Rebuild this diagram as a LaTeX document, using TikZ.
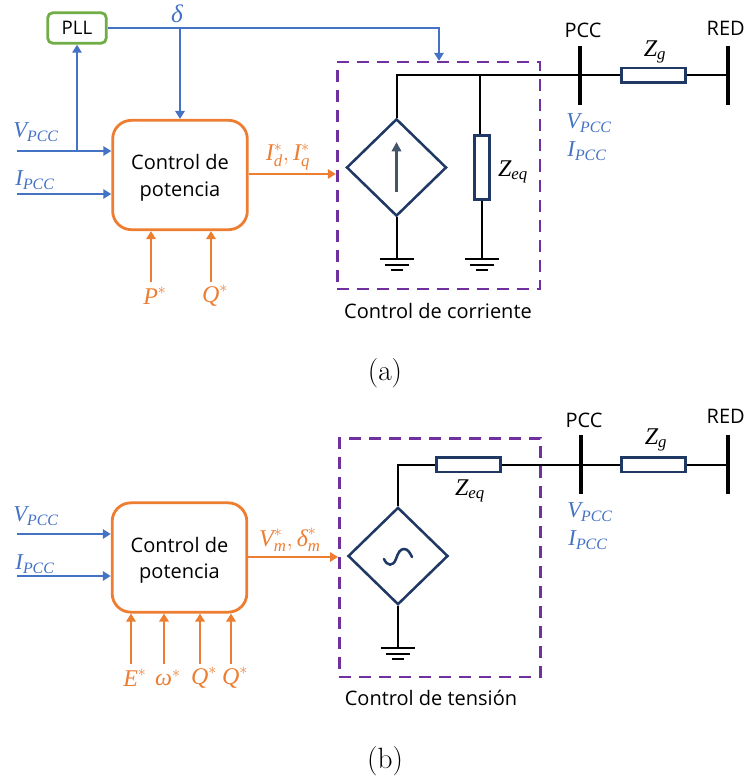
\documentclass[tikz,border=0pt]{standalone}
\usepackage{amsmath}
\usepackage{fontspec}
\setmainfont{Open Sans}
\newfontfamily\lmfont{Latin Modern Roman}
\newfontfamily\mfont{Liberation Serif}
\usetikzlibrary{arrows.meta,shapes.geometric,calc}
\definecolor{cblue}{HTML}{4472C4}
\definecolor{corange}{HTML}{ED7D31}
\definecolor{cgreen}{HTML}{70AD47}
\definecolor{cpurple}{HTML}{7030A0}
\definecolor{cnavy}{HTML}{1F3864}
\definecolor{cslate}{HTML}{44546A}
\newcommand\M[1]{\text{\mfont\itshape #1}}
\newcommand\VP{$\M{V}_{\M{PCC}}$}
\newcommand\IP{$\M{I}_{\M{PCC}}$}
\newcommand\Zq{$\M{Z}_{\M{eq}}$}
\newcommand\Zg{$\M{Z}_{\M{g}}$}
\newcommand\Low[1]{\raisebox{-2.2pt}[0.8em][0.3em]{#1}}
\tikzset{
  x=0.75pt,y=-0.75pt,
  bluearrow/.style={draw=cblue,line width=2.1pt,-{Triangle[length=6pt,width=7pt]}},
  blueline/.style={draw=cblue,line width=2.1pt},
  orangearrow/.style={draw=corange,line width=2.2pt,-{Triangle[length=6pt,width=7pt]}},
  ctrlbox/.style={draw=corange,line width=2.1pt,rounded corners=14pt,minimum width=101pt,minimum height=82pt,inner sep=0pt,align=center,font=\fontsize{15}{20}\selectfont},
  pllbox/.style={draw=cgreen,line width=2.1pt,rounded corners=4pt,minimum width=44pt,minimum height=23pt,inner sep=0pt,font=\fontsize{14}{15}\selectfont},
  group/.style={draw=cpurple,line width=2pt,dash pattern=on 9pt off 6pt,inner sep=0pt},
  source/.style={diamond,draw=cnavy,line width=1.9pt,minimum width=75pt,minimum height=73pt,inner sep=0pt},
  resh/.style={draw=cnavy,line width=2pt,minimum width=48pt,minimum height=11pt,inner sep=0pt},
  resv/.style={draw=cnavy,line width=2pt,minimum width=11pt,minimum height=48pt,inner sep=0pt},
  wire/.style={draw=black,line width=1.5pt},
  busbar/.style={draw=black,line width=2.4pt},
  txt/.style={font=\fontsize{15}{18}\selectfont,inner sep=0pt},
  mblue/.style={text=cblue,font=\fontsize{17}{20}\selectfont,inner sep=0pt},
  morange/.style={text=corange,font=\fontsize{18}{20}\selectfont,inner sep=0pt},
  mblack/.style={text=black,font=\fontsize{18}{20}\selectfont,inner sep=0pt},
  caption/.style={font=\lmfont\fontsize{22}{24}\selectfont,inner sep=0pt},
  ground/.pic={\draw[black,line width=1.5pt] (-17,0)--(17,0) (-12,6)--(12,6) (-6,11)--(6,11);}
}
\begin{document}
\begin{tikzpicture}
\useasboundingbox (0,0) rectangle (745,781);
% ---------- (a)
\node[ctrlbox] (ca) at (180,175) {\Low{Control de}\\\Low{potencia}};
\node[pllbox] (pll) at (77,28) {PLL};
\node[group,minimum width=152pt,minimum height=170pt] (ga) at (438.5,175.5) {};
\node[source] (sa) at (396.5,167.5) {};
\node[resv] (rqa) at (482,167.5) {};
\node[resh] (rga) at (653.5,75.5) {};
\coordinate (busa) at (396.5,75.5);
\coordinate (jza) at (480,75.5);
\coordinate (pcca) at (580,75.5);
\coordinate (reda) at (728,75.5);
\coordinate (pcca1) at (580,46);
\coordinate (pcca2) at (580,105);
\coordinate (reda1) at (728,46);
\coordinate (reda2) at (728,105);
\coordinate (gsa) at (396.5,259);
\coordinate (gra) at (482,259);
\coordinate (via) at (17,151);
\coordinate (jva) at (77,151);
\coordinate (iia) at (17,194);
\coordinate (jda) at (180,28);
\coordinate (tda) at (439,28);
\coordinate (pa) at (151,282);
\coordinate (qa) at (211,282);
\coordinate (ar1) at (396.5,192);
\coordinate (ar2) at (396.5,142);
\draw[blueline] (via)--(jva);
\draw[bluearrow] (jva)--(jva-|ca.west);
\draw[bluearrow] (iia)--(iia-|ca.west);
\draw[bluearrow] (jva)--(pll.south);
\draw[blueline] (pll.east)--(jda);
\draw[bluearrow] (jda)--(ca.north);
\draw[bluearrow] (jda)--(tda)--(tda|-ga.north);
\draw[orangearrow] (ca.east|-0,174)--(ga.west|-0,174);
\draw[orangearrow] (pa)--(pa|-ca.south);
\draw[orangearrow] (qa)--(qa|-ca.south);
\draw[wire] (sa.north)--(busa)--(pcca);
\draw[wire] (jza)--(jza|-rqa.north);
\draw[wire] (sa.south)--(gsa);
\draw[wire] (rqa.south)--(gra);
\draw[wire] (pcca)--(rga.west);
\draw[wire] (rga.east)--(reda);
\draw[busbar] (pcca1)--(pcca2);
\draw[busbar] (reda1)--(reda2);
\draw[draw=cslate,line width=2pt,-{Triangle[length=7pt,width=7pt]}] (ar1)--(ar2);
\pic at (gsa) {ground};
\pic at (gra) {ground};
\node[mblue] (la1) at (36,132) {\VP};
\node[mblue] (la2) at (35,180) {\IP};
\node[mblue] (la3) at (177,14) {\fontsize{19}{20}\selectfont$\M{δ}$};
\node[morange] (la4) at (288,157) {$\M{I}^{*}_{\M{d}},\M{I}^{*}_{\M{q}}$};
\node[morange] (la5) at (155,296) {$\M{P}^{*}$};
\node[morange] (la6) at (215,296) {$\M{Q}^{*}$};
\node[mblack] (la7) at (513,172) {\Zq};
\node[mblack] (la8) at (655,52) {\Zg};
\node[txt] (la9) at (583,30) {PCC};
\node[txt,anchor=east] (la10) at (745,28) {RED};
\node[mblue] (la11) at (589,123) {\VP};
\node[mblue] (la12) at (587,151) {\IP};
\node[txt] (la13) at (438,311) {Control de corriente};
\node[caption] (capa) at (385,373) {(a)};
% ---------- (b)
\node[ctrlbox] (cb) at (179.5,557.5) {\Low{Control de}\\\Low{potencia}};
\node[group,minimum width=151pt,minimum height=179pt] (gb) at (440,557.5) {};
\node[source] (sb) at (398,556) {};
\node[resh] (rqb) at (468.5,464.5) {};
\node[resh] (rgb) at (653.5,464.5) {};
\coordinate (busb) at (398,464.5);
\coordinate (pccb) at (581,464.5);
\coordinate (redb) at (728,464.5);
\coordinate (pccb1) at (581,435);
\coordinate (pccb2) at (581,494);
\coordinate (redb1) at (728,435);
\coordinate (redb2) at (728,494);
\coordinate (gsb) at (398,648);
\coordinate (vib) at (17,534);
\coordinate (iib) at (17,576);
\coordinate (eb) at (131,664);
\coordinate (wb) at (164,664);
\coordinate (qb1) at (200,664);
\coordinate (qb2) at (231,664);
\draw[bluearrow] (vib)--(vib-|cb.west);
\draw[bluearrow] (iib)--(iib-|cb.west);
\draw[orangearrow] (cb.east|-0,557)--(gb.west|-0,557);
\draw[orangearrow] (eb)--(eb|-cb.south);
\draw[orangearrow] (wb)--(wb|-cb.south);
\draw[orangearrow] (qb1)--(qb1|-cb.south);
\draw[orangearrow] (qb2)--(qb2|-cb.south);
\draw[wire] (sb.north)--(busb)--(rqb.west);
\draw[wire] (rqb.east)--(pccb);
\draw[wire] (pccb)--(rgb.west);
\draw[wire] (rgb.east)--(redb);
\draw[wire] (sb.south)--(gsb);
\draw[busbar] (pccb1)--(pccb2);
\draw[busbar] (redb1)--(redb2);
\draw[draw=cnavy,line width=1.9pt,line cap=round] (384,559) .. controls (387,566) and (393,567) .. (396,559) .. controls (398,553) and (400,549) .. (404,549) .. controls (408,549) and (410,553) .. (412,557);
\pic at (gsb) {ground};
\node[mblue] (lb1) at (36,516) {\VP};
\node[mblue] (lb2) at (35,564) {\IP};
\node[morange] (lb3) at (290,540) {$\M{V}^{*}_{\M{m}},\M{δ}^{*}_{\M{m}}$};
\node[morange] (lb4) at (135,678) {$\M{E}^{*}$};
\node[morange] (lb5) at (168,678) {$\M{ω}^{*}$};
\node[morange] (lb6) at (204,678) {$\M{Q}^{*}$};
\node[morange] (lb7) at (235,678) {$\M{Q}^{*}$};
\node[mblack] (lb8) at (470,491) {\Zq};
\node[mblack] (lb9) at (656,440) {\Zg};
\node[txt] (lb10) at (584,420) {PCC};
\node[txt,anchor=east] (lb11) at (745,416) {RED};
\node[mblue] (lb12) at (590,512) {\VP};
\node[mblue] (lb13) at (588,540) {\IP};
\node[txt] (lb14) at (431,698) {Control de tensión};
\node[caption] (capb) at (385,761) {(b)};
\end{tikzpicture}
\end{document}
